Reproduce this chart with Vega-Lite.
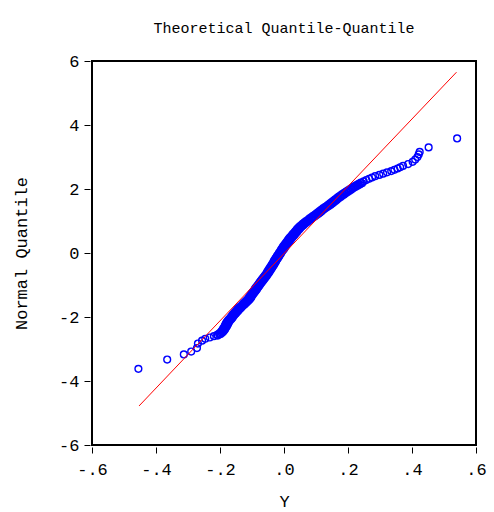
{
  "$schema": "https://vega.github.io/schema/vega-lite/v6.json",
  "width": 384,
  "height": 384,
  "autosize": {"type": "none"},
  "padding": {"left": 92, "top": 61, "right": 18, "bottom": 67},
  "background": "white",
  "title": {
    "text": "Theoretical Quantile-Quantile",
    "font": "Liberation Mono",
    "fontSize": 15,
    "fontWeight": "normal",
    "color": "black",
    "anchor": "middle",
    "baseline": "alphabetic",
    "offset": 4
  },
  "config": {
    "view": {"stroke": "black", "strokeWidth": 2},
    "axis": {
      "domain": false,
      "grid": false,
      "ticks": true,
      "tickColor": "black",
      "tickSize": 6,
      "tickWidth": 1,
      "offset": 2,
      "labelFont": "Liberation Mono",
      "labelFontSize": 17,
      "labelColor": "black",
      "titleFont": "Liberation Mono",
      "titleFontSize": 17,
      "titleFontWeight": "normal",
      "titleColor": "black"
    }
  },
  "datasets": {
    "qq": [
      {"Y": -0.455, "NQ": -3.62},
      {"Y": -0.365, "NQ": -3.33},
      {"Y": -0.313, "NQ": -3.17},
      {"Y": -0.290, "NQ": -3.08},
      {"Y": -0.272, "NQ": -2.97},
      {"Y": -0.269, "NQ": -2.83},
      {"Y": -0.256, "NQ": -2.74},
      {"Y": -0.246, "NQ": -2.68},
      {"Y": -0.232, "NQ": -2.64},
      {"Y": -0.219, "NQ": -2.60},
      {"Y": -0.209, "NQ": -2.56},
      {"Y": -0.203, "NQ": -2.52},
      {"Y": -0.198, "NQ": -2.48},
      {"Y": -0.195, "NQ": -2.44},
      {"Y": -0.192, "NQ": -2.40},
      {"Y": -0.190, "NQ": -2.36},
      {"Y": -0.187, "NQ": -2.32},
      {"Y": -0.185, "NQ": -2.28},
      {"Y": -0.183, "NQ": -2.24},
      {"Y": -0.181, "NQ": -2.20},
      {"Y": -0.179, "NQ": -2.16},
      {"Y": -0.176, "NQ": -2.12},
      {"Y": -0.173, "NQ": -2.08},
      {"Y": -0.169, "NQ": -2.04},
      {"Y": -0.166, "NQ": -2.00},
      {"Y": -0.163, "NQ": -1.96},
      {"Y": -0.160, "NQ": -1.92},
      {"Y": -0.156, "NQ": -1.88},
      {"Y": -0.153, "NQ": -1.84},
      {"Y": -0.149, "NQ": -1.80},
      {"Y": -0.146, "NQ": -1.76},
      {"Y": -0.142, "NQ": -1.72},
      {"Y": -0.138, "NQ": -1.68},
      {"Y": -0.133, "NQ": -1.64},
      {"Y": -0.129, "NQ": -1.60},
      {"Y": -0.125, "NQ": -1.56},
      {"Y": -0.121, "NQ": -1.52},
      {"Y": -0.117, "NQ": -1.48},
      {"Y": -0.113, "NQ": -1.44},
      {"Y": -0.110, "NQ": -1.40},
      {"Y": -0.108, "NQ": -1.36},
      {"Y": -0.105, "NQ": -1.32},
      {"Y": -0.102, "NQ": -1.28},
      {"Y": -0.099, "NQ": -1.24},
      {"Y": -0.096, "NQ": -1.20},
      {"Y": -0.093, "NQ": -1.16},
      {"Y": -0.091, "NQ": -1.12},
      {"Y": -0.088, "NQ": -1.08},
      {"Y": -0.085, "NQ": -1.04},
      {"Y": -0.082, "NQ": -1.00},
      {"Y": -0.079, "NQ": -0.96},
      {"Y": -0.076, "NQ": -0.92},
      {"Y": -0.073, "NQ": -0.88},
      {"Y": -0.070, "NQ": -0.84},
      {"Y": -0.067, "NQ": -0.80},
      {"Y": -0.064, "NQ": -0.76},
      {"Y": -0.061, "NQ": -0.72},
      {"Y": -0.058, "NQ": -0.68},
      {"Y": -0.055, "NQ": -0.64},
      {"Y": -0.053, "NQ": -0.60},
      {"Y": -0.050, "NQ": -0.56},
      {"Y": -0.048, "NQ": -0.52},
      {"Y": -0.045, "NQ": -0.48},
      {"Y": -0.043, "NQ": -0.44},
      {"Y": -0.040, "NQ": -0.40},
      {"Y": -0.038, "NQ": -0.36},
      {"Y": -0.035, "NQ": -0.32},
      {"Y": -0.033, "NQ": -0.28},
      {"Y": -0.031, "NQ": -0.24},
      {"Y": -0.028, "NQ": -0.20},
      {"Y": -0.026, "NQ": -0.16},
      {"Y": -0.023, "NQ": -0.12},
      {"Y": -0.021, "NQ": -0.08},
      {"Y": -0.018, "NQ": -0.04},
      {"Y": -0.016, "NQ": 0.00},
      {"Y": -0.013, "NQ": 0.04},
      {"Y": -0.010, "NQ": 0.08},
      {"Y": -0.008, "NQ": 0.12},
      {"Y": -0.005, "NQ": 0.16},
      {"Y": -0.003, "NQ": 0.20},
      {"Y": 0.000, "NQ": 0.24},
      {"Y": 0.003, "NQ": 0.28},
      {"Y": 0.006, "NQ": 0.32},
      {"Y": 0.009, "NQ": 0.36},
      {"Y": 0.012, "NQ": 0.40},
      {"Y": 0.015, "NQ": 0.44},
      {"Y": 0.018, "NQ": 0.48},
      {"Y": 0.022, "NQ": 0.52},
      {"Y": 0.025, "NQ": 0.56},
      {"Y": 0.028, "NQ": 0.60},
      {"Y": 0.032, "NQ": 0.64},
      {"Y": 0.035, "NQ": 0.68},
      {"Y": 0.039, "NQ": 0.72},
      {"Y": 0.042, "NQ": 0.76},
      {"Y": 0.046, "NQ": 0.80},
      {"Y": 0.050, "NQ": 0.84},
      {"Y": 0.055, "NQ": 0.88},
      {"Y": 0.059, "NQ": 0.92},
      {"Y": 0.064, "NQ": 0.96},
      {"Y": 0.069, "NQ": 1.00},
      {"Y": 0.075, "NQ": 1.04},
      {"Y": 0.080, "NQ": 1.08},
      {"Y": 0.086, "NQ": 1.12},
      {"Y": 0.091, "NQ": 1.16},
      {"Y": 0.097, "NQ": 1.20},
      {"Y": 0.102, "NQ": 1.24},
      {"Y": 0.107, "NQ": 1.28},
      {"Y": 0.112, "NQ": 1.32},
      {"Y": 0.117, "NQ": 1.36},
      {"Y": 0.123, "NQ": 1.40},
      {"Y": 0.129, "NQ": 1.44},
      {"Y": 0.135, "NQ": 1.48},
      {"Y": 0.140, "NQ": 1.52},
      {"Y": 0.145, "NQ": 1.56},
      {"Y": 0.150, "NQ": 1.60},
      {"Y": 0.155, "NQ": 1.64},
      {"Y": 0.160, "NQ": 1.68},
      {"Y": 0.166, "NQ": 1.72},
      {"Y": 0.171, "NQ": 1.76},
      {"Y": 0.177, "NQ": 1.80},
      {"Y": 0.182, "NQ": 1.84},
      {"Y": 0.188, "NQ": 1.88},
      {"Y": 0.194, "NQ": 1.92},
      {"Y": 0.200, "NQ": 1.96},
      {"Y": 0.206, "NQ": 2.00},
      {"Y": 0.212, "NQ": 2.04},
      {"Y": 0.219, "NQ": 2.08},
      {"Y": 0.226, "NQ": 2.12},
      {"Y": 0.233, "NQ": 2.16},
      {"Y": 0.240, "NQ": 2.20},
      {"Y": 0.249, "NQ": 2.24},
      {"Y": 0.257, "NQ": 2.28},
      {"Y": 0.266, "NQ": 2.32},
      {"Y": 0.275, "NQ": 2.36},
      {"Y": 0.285, "NQ": 2.40},
      {"Y": 0.298, "NQ": 2.44},
      {"Y": 0.310, "NQ": 2.48},
      {"Y": 0.322, "NQ": 2.52},
      {"Y": 0.335, "NQ": 2.56},
      {"Y": 0.345, "NQ": 2.60},
      {"Y": 0.355, "NQ": 2.64},
      {"Y": 0.363, "NQ": 2.68},
      {"Y": 0.372, "NQ": 2.72},
      {"Y": 0.388, "NQ": 2.78},
      {"Y": 0.402, "NQ": 2.85},
      {"Y": 0.410, "NQ": 2.92},
      {"Y": 0.417, "NQ": 3.00},
      {"Y": 0.421, "NQ": 3.08},
      {"Y": 0.424, "NQ": 3.16},
      {"Y": 0.452, "NQ": 3.30},
      {"Y": 0.541, "NQ": 3.58},
      {"Y": -0.207, "NQ": -2.58},
      {"Y": -0.199, "NQ": -2.54},
      {"Y": -0.194, "NQ": -2.50},
      {"Y": -0.190, "NQ": -2.46},
      {"Y": -0.187, "NQ": -2.42},
      {"Y": -0.184, "NQ": -2.38},
      {"Y": -0.182, "NQ": -2.34},
      {"Y": -0.179, "NQ": -2.30},
      {"Y": -0.177, "NQ": -2.26},
      {"Y": -0.175, "NQ": -2.22},
      {"Y": -0.173, "NQ": -2.18},
      {"Y": -0.171, "NQ": -2.14},
      {"Y": -0.168, "NQ": -2.10},
      {"Y": -0.164, "NQ": -2.06},
      {"Y": -0.161, "NQ": -2.02},
      {"Y": -0.158, "NQ": -1.98},
      {"Y": -0.155, "NQ": -1.94},
      {"Y": -0.151, "NQ": -1.90},
      {"Y": -0.148, "NQ": -1.86},
      {"Y": -0.144, "NQ": -1.82},
      {"Y": -0.141, "NQ": -1.78},
      {"Y": -0.137, "NQ": -1.74},
      {"Y": -0.133, "NQ": -1.70},
      {"Y": -0.129, "NQ": -1.66},
      {"Y": -0.124, "NQ": -1.62},
      {"Y": -0.120, "NQ": -1.58},
      {"Y": -0.116, "NQ": -1.54},
      {"Y": -0.112, "NQ": -1.50},
      {"Y": -0.108, "NQ": -1.46},
      {"Y": -0.105, "NQ": -1.42},
      {"Y": -0.102, "NQ": -1.38},
      {"Y": -0.100, "NQ": -1.34},
      {"Y": -0.097, "NQ": -1.30},
      {"Y": -0.094, "NQ": -1.26},
      {"Y": -0.091, "NQ": -1.22},
      {"Y": -0.088, "NQ": -1.18},
      {"Y": -0.085, "NQ": -1.14},
      {"Y": -0.083, "NQ": -1.10},
      {"Y": -0.080, "NQ": -1.06},
      {"Y": -0.077, "NQ": -1.02},
      {"Y": -0.074, "NQ": -0.98},
      {"Y": -0.071, "NQ": -0.94},
      {"Y": -0.068, "NQ": -0.90},
      {"Y": -0.065, "NQ": -0.86},
      {"Y": -0.062, "NQ": -0.82},
      {"Y": -0.059, "NQ": -0.78},
      {"Y": -0.056, "NQ": -0.74},
      {"Y": -0.053, "NQ": -0.70},
      {"Y": -0.050, "NQ": -0.66},
      {"Y": -0.047, "NQ": -0.62},
      {"Y": -0.045, "NQ": -0.58},
      {"Y": -0.042, "NQ": -0.54},
      {"Y": -0.040, "NQ": -0.50},
      {"Y": -0.037, "NQ": -0.46},
      {"Y": -0.035, "NQ": -0.42},
      {"Y": -0.032, "NQ": -0.38},
      {"Y": -0.030, "NQ": -0.34},
      {"Y": -0.027, "NQ": -0.30},
      {"Y": -0.025, "NQ": -0.26},
      {"Y": -0.023, "NQ": -0.22},
      {"Y": -0.020, "NQ": -0.18},
      {"Y": -0.018, "NQ": -0.14},
      {"Y": -0.015, "NQ": -0.10},
      {"Y": -0.013, "NQ": -0.06},
      {"Y": -0.010, "NQ": -0.02},
      {"Y": -0.008, "NQ": 0.02},
      {"Y": -0.005, "NQ": 0.06},
      {"Y": -0.002, "NQ": 0.10},
      {"Y": 0.001, "NQ": 0.14},
      {"Y": 0.003, "NQ": 0.18},
      {"Y": 0.006, "NQ": 0.22},
      {"Y": 0.009, "NQ": 0.26},
      {"Y": 0.012, "NQ": 0.30},
      {"Y": 0.015, "NQ": 0.34},
      {"Y": 0.018, "NQ": 0.38},
      {"Y": 0.021, "NQ": 0.42},
      {"Y": 0.024, "NQ": 0.46},
      {"Y": 0.027, "NQ": 0.50},
      {"Y": 0.031, "NQ": 0.54},
      {"Y": 0.034, "NQ": 0.58},
      {"Y": 0.037, "NQ": 0.62},
      {"Y": 0.041, "NQ": 0.66},
      {"Y": 0.044, "NQ": 0.70},
      {"Y": 0.048, "NQ": 0.74},
      {"Y": 0.051, "NQ": 0.78},
      {"Y": 0.055, "NQ": 0.82},
      {"Y": 0.060, "NQ": 0.86},
      {"Y": 0.064, "NQ": 0.90},
      {"Y": 0.069, "NQ": 0.94},
      {"Y": 0.074, "NQ": 0.98},
      {"Y": 0.079, "NQ": 1.02},
      {"Y": 0.085, "NQ": 1.06},
      {"Y": 0.090, "NQ": 1.10},
      {"Y": 0.096, "NQ": 1.14},
      {"Y": 0.101, "NQ": 1.18},
      {"Y": 0.107, "NQ": 1.22},
      {"Y": 0.112, "NQ": 1.26},
      {"Y": 0.117, "NQ": 1.30},
      {"Y": 0.122, "NQ": 1.34},
      {"Y": 0.127, "NQ": 1.38},
      {"Y": 0.133, "NQ": 1.42},
      {"Y": 0.139, "NQ": 1.46},
      {"Y": 0.145, "NQ": 1.50},
      {"Y": 0.150, "NQ": 1.54},
      {"Y": 0.155, "NQ": 1.58},
      {"Y": 0.160, "NQ": 1.62},
      {"Y": 0.165, "NQ": 1.66},
      {"Y": 0.170, "NQ": 1.70},
      {"Y": 0.176, "NQ": 1.74},
      {"Y": 0.181, "NQ": 1.78},
      {"Y": 0.187, "NQ": 1.82},
      {"Y": 0.192, "NQ": 1.86},
      {"Y": 0.198, "NQ": 1.90},
      {"Y": 0.204, "NQ": 1.94},
      {"Y": 0.210, "NQ": 1.98},
      {"Y": 0.216, "NQ": 2.02},
      {"Y": 0.223, "NQ": 2.06},
      {"Y": 0.230, "NQ": 2.10},
      {"Y": 0.237, "NQ": 2.14},
      {"Y": 0.244, "NQ": 2.18}
    ],
    "fit": [
      {"Y": -0.453, "NQ": -4.78},
      {"Y": 0.539, "NQ": 5.65}
    ]
  },
  "layer": [
    {
      "data": {"name": "qq"},
      "mark": {"type": "point", "shape": "circle", "filled": false, "color": "#0000ff", "size": 46, "strokeWidth": 1.4, "opacity": 1},
      "encoding": {
        "x": {
          "field": "Y", "type": "quantitative",
          "scale": {"domain": [-0.6, 0.6], "nice": false, "zero": false},
          "axis": {
            "title": "Y",
            "values": [-0.6, -0.4, -0.2, 0, 0.2, 0.4, 0.6],
            "labelExpr": "replace(replace(format(datum.value, '.1f'), '\u2212', '-'), '0.', '.')",
            "labelPadding": 8,
            "titlePadding": 16,
            "labelFlush": false,
            "labelOverlap": false
          }
        },
        "y": {
          "field": "NQ", "type": "quantitative",
          "scale": {"domain": [-6, 6], "nice": false, "zero": false},
          "axis": {
            "title": "Normal Quantile",
            "values": [-6, -4, -2, 0, 2, 4, 6],
            "labelExpr": "replace(format(datum.value, 'd'), '\u2212', '-')",
            "labelPadding": 5,
            "titlePadding": 28,
            "labelFlush": false,
            "labelOverlap": false
          }
        }
      }
    },
    {
      "data": {"name": "fit"},
      "mark": {"type": "line", "color": "#ff0000", "strokeWidth": 1},
      "encoding": {
        "x": {"field": "Y", "type": "quantitative"},
        "y": {"field": "NQ", "type": "quantitative"}
      }
    }
  ]
}
